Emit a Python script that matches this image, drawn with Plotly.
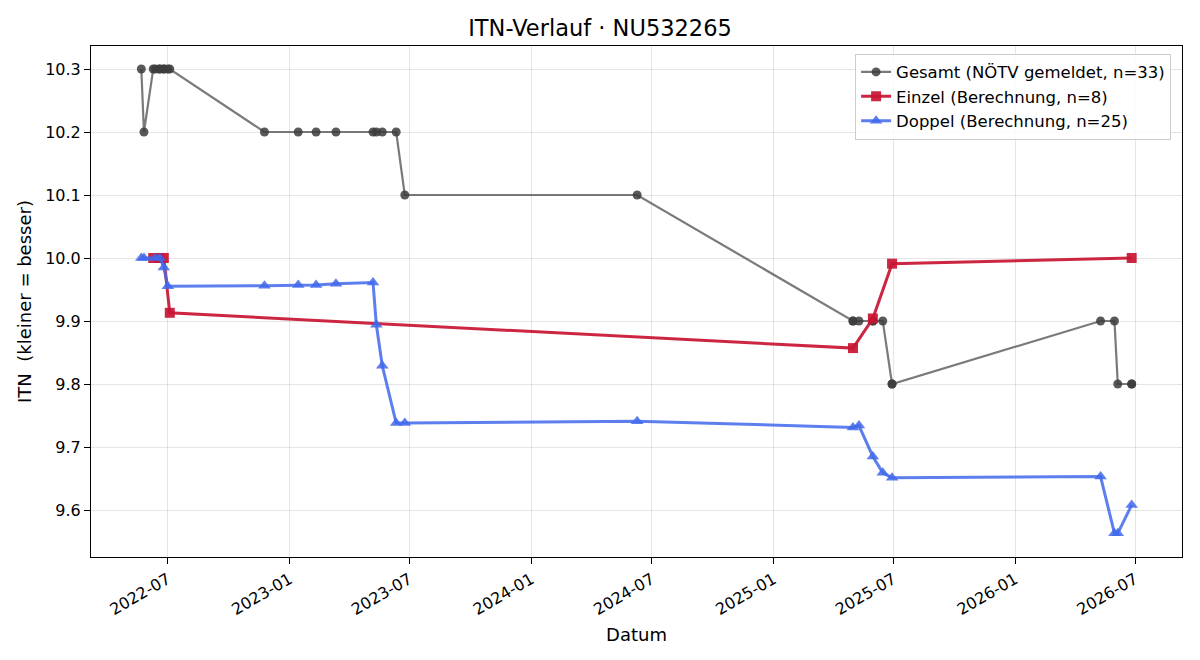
import plotly.graph_objects as go

# ---- data ----
gesamt_dates = [
    "2022-05-22", "2022-05-26", "2022-06-09", "2022-06-12", "2022-06-18", "2022-06-19",
    "2022-06-25", "2022-06-25", "2022-07-01", "2022-07-04",
    "2022-11-24", "2023-01-14", "2023-02-10", "2023-03-12", "2023-05-07", "2023-05-12",
    "2023-05-21", "2023-06-11", "2023-06-24", "2024-06-09",
    "2025-05-01", "2025-05-01", "2025-05-10", "2025-05-31", "2025-05-31", "2025-06-15",
    "2025-06-29", "2025-06-29",
    "2026-05-10", "2026-05-31", "2026-06-05", "2026-06-26", "2026-06-26",
]
gesamt_itn = [
    10.3, 10.2, 10.3, 10.3, 10.3, 10.3,
    10.3, 10.3, 10.3, 10.3,
    10.2, 10.2, 10.2, 10.2, 10.2, 10.2,
    10.2, 10.2, 10.1, 10.1,
    9.9, 9.9, 9.9, 9.9, 9.9, 9.9,
    9.8, 9.8,
    9.9, 9.9, 9.8, 9.8, 9.8,
]

einzel_dates = [
    "2022-06-09", "2022-06-18", "2022-06-25", "2022-07-04",
    "2025-05-01", "2025-05-31", "2025-06-29", "2026-06-26",
]
einzel_itn = [10.0, 10.0, 10.0, 9.913, 9.857, 9.904, 9.991, 10.0]

doppel_dates = [
    "2022-05-22", "2022-05-26", "2022-06-12", "2022-06-19", "2022-06-25", "2022-07-01",
    "2022-11-24", "2023-01-14", "2023-02-10", "2023-03-12", "2023-05-07", "2023-05-12",
    "2023-05-21", "2023-06-11", "2023-06-24", "2024-06-09",
    "2025-05-01", "2025-05-10", "2025-05-31", "2025-06-15", "2025-06-29",
    "2026-05-10", "2026-05-31", "2026-06-05", "2026-06-26",
]
doppel_itn = [
    10.0, 10.0, 10.0, 10.0, 9.985, 9.955,
    9.956, 9.957, 9.957, 9.959, 9.961, 9.894,
    9.829, 9.738, 9.738, 9.741,
    9.731, 9.734, 9.685, 9.659, 9.651,
    9.653, 9.563, 9.563, 9.608,
]

y_ticks = [9.6, 9.7, 9.8, 9.9, 10.0, 10.1, 10.2, 10.3]

FONT = "DejaVu Sans"

fig = go.Figure()
fig.add_trace(go.Scatter(
    x=gesamt_dates, y=gesamt_itn, mode="lines+markers",
    name="Gesamt (NÖTV gemeldet, n=33)",
    line=dict(color="rgba(85,85,85,0.78)", width=2.2),
    marker=dict(symbol="circle", size=9, color="rgba(60,60,60,0.85)"),
))
fig.add_trace(go.Scatter(
    x=einzel_dates, y=einzel_itn, mode="lines+markers",
    name="Einzel (Berechnung, n=8)",
    line=dict(color="rgba(200,20,50,0.92)", width=3),
    marker=dict(symbol="square", size=10, color="rgba(200,20,50,0.92)"),
))
fig.add_trace(go.Scatter(
    x=doppel_dates, y=doppel_itn, mode="lines+markers",
    name="Doppel (Berechnung, n=25)",
    line=dict(color="rgba(65,105,235,0.85)", width=3),
    marker=dict(symbol="triangle-up", size=11, color="rgba(65,105,235,0.85)"),
))

fig.update_layout(
    width=1200, height=660,
    margin=dict(l=91, r=18, t=46, b=103),
    paper_bgcolor="white", plot_bgcolor="white",
    font=dict(family=FONT, size=16, color="black"),
    title=dict(text="ITN-Verlauf · NU532265", x=0.5, xanchor="center",
               y=0.957, yanchor="middle", font=dict(size=22.5, family=FONT)),
    legend=dict(x=0.99, y=0.985, xanchor="right", yanchor="top",
                bgcolor="rgba(255,255,255,0.85)", bordercolor="#cccccc", borderwidth=1,
                font=dict(size=16.5, family=FONT), tracegroupgap=0),
    showlegend=True,
)
fig.update_xaxes(
    range=["2022-03-07", "2026-09-10"],
    tickformat="%Y-%m", dtick="M6", tick0="2022-01-01",
    tickangle=-30, ticks="outside", ticklen=6, tickcolor="black",
    tickfont=dict(size=16),
    showgrid=True, gridcolor="rgba(0,0,0,0.1)", gridwidth=1,
    showline=True, linecolor="black", linewidth=1, mirror=True,
    title=dict(text="Datum", font=dict(size=18), standoff=10),
    zeroline=False,
)
fig.update_yaxes(
    range=[9.5254, 10.3365],
    tickvals=y_ticks, tickformat=".1f",
    ticks="outside", ticklen=6, tickcolor="black",
    tickfont=dict(size=16),
    showgrid=True, gridcolor="rgba(0,0,0,0.1)", gridwidth=1,
    showline=True, linecolor="black", linewidth=1, mirror=True,
    title=dict(text="ITN\u00a0 (kleiner = besser)", font=dict(size=18), standoff=8),
    zeroline=False,
)

fig.write_html("out.html")
